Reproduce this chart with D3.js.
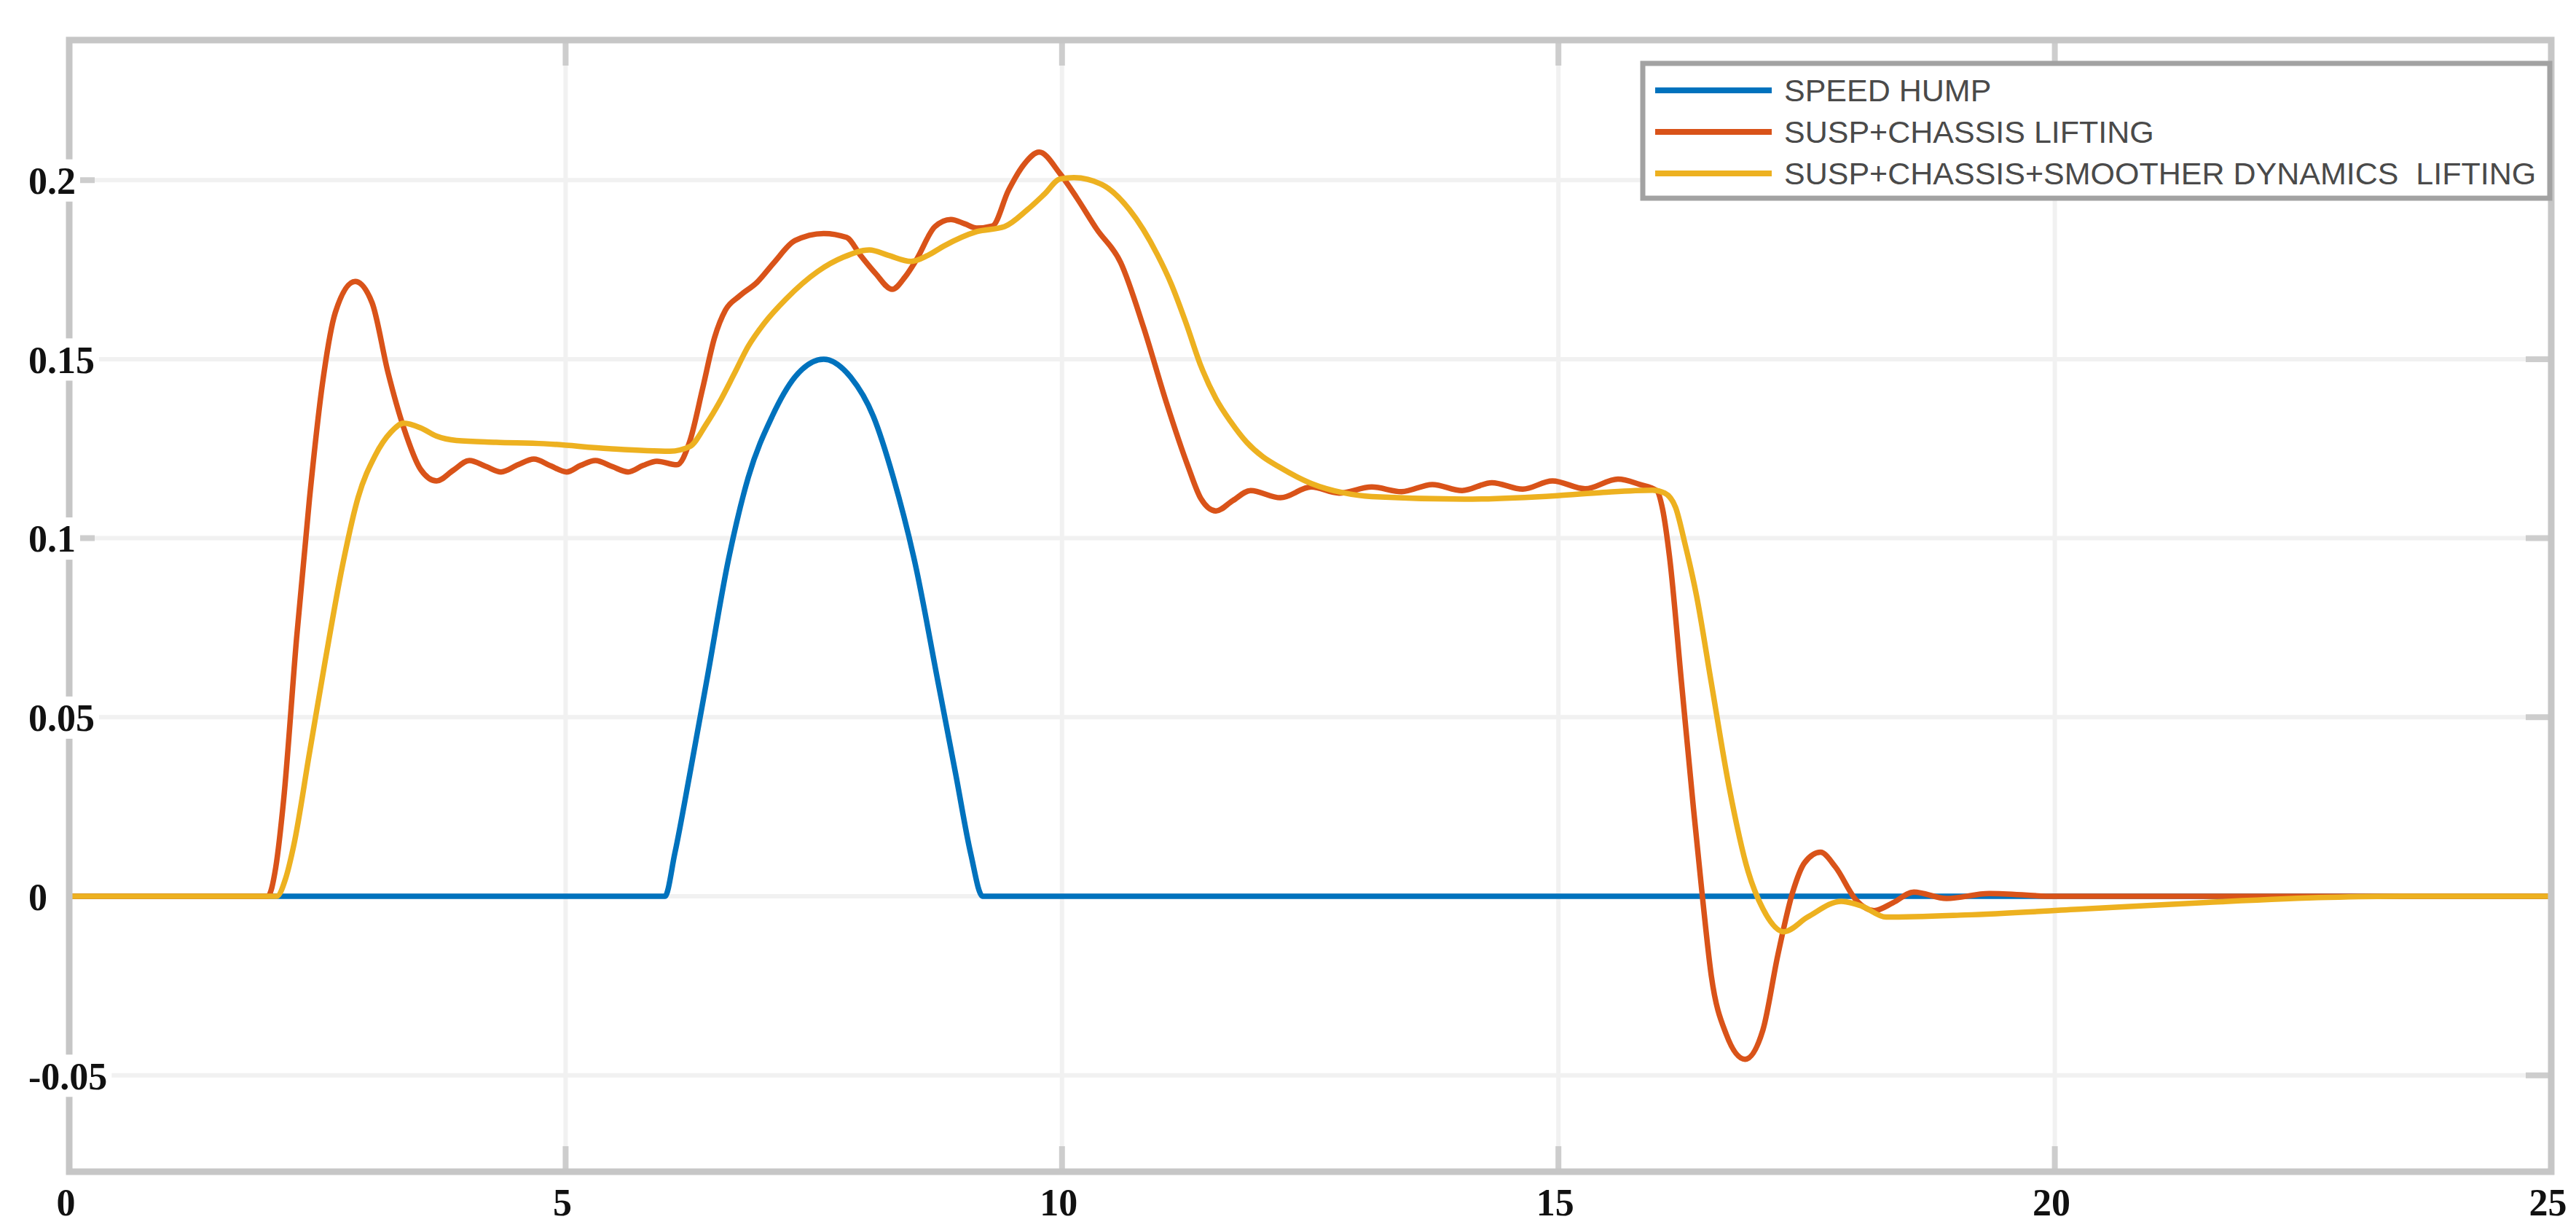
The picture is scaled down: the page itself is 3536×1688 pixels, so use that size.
<!DOCTYPE html>
<html><head><meta charset="utf-8">
<script src="https://cdn.jsdelivr.net/npm/d3@7"></script>
<style>html,body{margin:0;padding:0;background:#fff;} svg{display:block;}</style>
</head><body>
<svg id="chart" width="3536" height="1688"></svg>
<script>
// ---------------- data ----------------
const timeTicks = [0, 5, 10, 15, 20, 25];
const timeTickLabels = ["0", "5", "10", "15", "20", "25"];
const valueTicks = [-0.05, 0, 0.05, 0.1, 0.15, 0.2];
const valueTickLabels = ["-0.05", "0", "0.05", "0.1", "0.15", "0.2"];
const seriesNames = ["SPEED HUMP", "SUSP+CHASSIS LIFTING", "SUSP+CHASSIS+SMOOTHER DYNAMICS  LIFTING"];
const seriesColors = ["#0072BD", "#D95319", "#EDB120"];

// [time, value]
const speedHump = [[0,0],[6.0,0],[6.1,0.012],[6.25,0.034],[6.42,0.06],[6.64,0.094],[6.84,0.117],[7.08,0.134],[7.31,0.145],[7.6,0.15],[7.87,0.145],[8.1,0.134],[8.3,0.117],[8.52,0.093],[8.75,0.06],[8.93,0.034],[9.08,0.012],[9.2,0],[25,0]];

const suspChassis = [[0,0],[2.0,0],[2.08,0.008],[2.16,0.027],[2.29,0.072],[2.42,0.111],[2.55,0.143],[2.68,0.163],[2.88,0.1717],[3.05,0.1658],[3.21,0.1464],[3.37,0.1308],[3.54,0.1192],[3.7,0.116],[3.87,0.119],[4.03,0.1217],[4.2,0.12],[4.35,0.1185],[4.52,0.1205],[4.68,0.1221],[4.85,0.1202],[5.01,0.1185],[5.15,0.1203],[5.3,0.1217],[5.47,0.12],[5.63,0.1185],[5.78,0.1203],[5.92,0.1215],[6.12,0.1205],[6.25,0.127],[6.38,0.1418],[6.5,0.156],[6.61,0.1637],[6.75,0.1676],[6.93,0.1715],[7.1,0.177],[7.31,0.1831],[7.6,0.1851],[7.83,0.184],[7.97,0.179],[8.12,0.174],[8.29,0.1695],[8.42,0.173],[8.53,0.1776],[8.72,0.187],[8.88,0.189],[9.02,0.1878],[9.14,0.1866],[9.3,0.1872],[9.46,0.1971],[9.62,0.2045],[9.77,0.2078],[9.98,0.2018],[10.15,0.195],[10.35,0.1863],[10.59,0.177],[10.82,0.159],[11.05,0.138],[11.27,0.12],[11.4,0.111],[11.55,0.1076],[11.72,0.1105],[11.9,0.1133],[12.2,0.1113],[12.51,0.1143],[12.79,0.1126],[13.12,0.1143],[13.42,0.113],[13.73,0.115],[14.03,0.1133],[14.33,0.1155],[14.64,0.1137],[14.94,0.116],[15.27,0.1138],[15.6,0.1165],[15.82,0.115],[15.99,0.1133],[16.05,0.108],[16.12,0.0946],[16.24,0.0596],[16.36,0.0246],[16.45,0],[16.54,-0.0222],[16.69,-0.0385],[16.88,-0.0455],[17.06,-0.0373],[17.21,-0.0164],[17.36,0.0012],[17.48,0.0094],[17.64,0.0123],[17.79,0.0082],[18.0,-0.0011],[18.18,-0.004],[18.37,-0.0018],[18.58,0.0012],[18.91,-0.0006],[19.34,0.0008],[20,0],[25,0]];

const suspChassisSmoother = [[0,0],[2.09,0],[2.18,0.005],[2.26,0.014],[2.42,0.04],[2.58,0.066],[2.75,0.092],[2.91,0.1114],[3.08,0.123],[3.24,0.1296],[3.37,0.1321],[3.54,0.1308],[3.7,0.1285],[3.9,0.1273],[4.3,0.1268],[4.78,0.1264],[5.44,0.125],[6.05,0.1243],[6.25,0.1256],[6.42,0.132],[6.55,0.138],[6.7,0.146],[6.84,0.1536],[7.0,0.16],[7.22,0.1668],[7.54,0.1745],[7.8,0.1785],[8.06,0.1805],[8.25,0.179],[8.48,0.1773],[8.65,0.179],[8.81,0.1816],[9.14,0.1856],[9.42,0.187],[9.65,0.1917],[9.82,0.196],[9.98,0.2003],[10.12,0.2007],[10.4,0.1988],[10.68,0.1917],[10.96,0.1792],[11.1,0.171],[11.25,0.16],[11.4,0.148],[11.55,0.139],[11.7,0.1325],[11.86,0.1268],[12.02,0.1228],[12.18,0.12],[12.51,0.1153],[12.83,0.1127],[13.12,0.1116],[14.05,0.1109],[14.99,0.1119],[15.45,0.1128],[15.95,0.1134],[16.07,0.1126],[16.18,0.1086],[16.27,0.099],[16.39,0.0841],[16.54,0.0596],[16.72,0.0304],[16.91,0.007],[17.06,-0.0035],[17.27,-0.0099],[17.51,-0.0058],[17.85,-0.0014],[18.06,-0.0028],[18.3,-0.0058],[19.1,-0.0052],[20.31,-0.0035],[21.53,-0.0017],[22.75,-0.0003],[23.5,0],[25,0]];

const allSeries = [speedHump, suspChassis, suspChassisSmoother];

// ---------------- layout ----------------
const plot = {left: 95, right: 3502, top: 55, bottom: 1608};
const svg = d3.select("#chart");
const x = d3.scaleLinear().domain([0, 25]).range([plot.left, plot.right]);
const y = d3.scaleLinear().domain([-0.0769, 0.2391]).range([plot.bottom, plot.top]);

svg.append("rect").attr("width", 3536).attr("height", 1688).attr("fill", "#fff");

svg.append("defs").append("clipPath").attr("id", "clip")
  .append("rect").attr("x", plot.left).attr("y", plot.top)
  .attr("width", plot.right - plot.left).attr("height", plot.bottom - plot.top);

// grid
const grid = svg.append("g").attr("stroke", "#f1f1f1").attr("stroke-width", 6);
grid.selectAll(".gx").data(timeTicks.slice(1, -1)).join("line")
  .attr("x1", d => x(d)).attr("x2", d => x(d)).attr("y1", plot.top).attr("y2", plot.bottom);
grid.selectAll(".gy").data(valueTicks).join("line")
  .attr("y1", d => y(d)).attr("y2", d => y(d)).attr("x1", plot.left).attr("x2", plot.right);

// inward ticks (under the data lines)
const tickLen = 35;
const tk = svg.append("g").attr("stroke", "#cdcdcd").attr("stroke-width", 8);
tk.selectAll(".tb").data(timeTicks).join("line")
  .attr("x1", d => x(d)).attr("x2", d => x(d)).attr("y1", plot.bottom).attr("y2", plot.bottom - tickLen);
tk.selectAll(".tt").data(timeTicks).join("line")
  .attr("x1", d => x(d)).attr("x2", d => x(d)).attr("y1", plot.top).attr("y2", plot.top + tickLen);
tk.selectAll(".tl").data(valueTicks).join("line")
  .attr("y1", d => y(d)).attr("y2", d => y(d)).attr("x1", plot.left).attr("x2", plot.left + tickLen);
tk.selectAll(".tr").data(valueTicks).join("line")
  .attr("y1", d => y(d)).attr("y2", d => y(d)).attr("x1", plot.right).attr("x2", plot.right - tickLen);

// lines
const line = d3.line().x(d => x(d[0])).y(d => y(d[1])).curve(d3.curveMonotoneX);
svg.append("g").attr("clip-path", "url(#clip)")
  .selectAll("path").data(allSeries).join("path")
  .attr("d", line).attr("fill", "none")
  .attr("stroke", (d, i) => seriesColors[i]).attr("stroke-width", 7.5)
  .attr("stroke-linejoin", "round").attr("stroke-linecap", "butt");

// frame
svg.append("rect").attr("x", plot.left).attr("y", plot.top)
  .attr("width", plot.right - plot.left).attr("height", plot.bottom - plot.top)
  .attr("fill", "none").attr("stroke", "#c6c6c6").attr("stroke-width", 9);

const labelFont = "'Liberation Serif', 'Times New Roman', serif";

// x axis labels
const xAxis = svg.append("g").attr("transform", `translate(0,${plot.bottom})`)
  .call(d3.axisBottom(x).tickValues(timeTicks).tickFormat((d, i) => timeTickLabels[i]).tickSize(0));
xAxis.select(".domain").remove();
xAxis.selectAll("text")
  .attr("x", -5).attr("y", 42).attr("dy", "0.35em").attr("text-anchor", "middle")
  .attr("font-family", labelFont)
  .attr("font-weight", "bold").attr("font-size", 52).attr("fill", "#111");

// y axis labels (left-aligned, over the axis line with white background)
const yAxis = svg.append("g").attr("transform", `translate(${plot.left},0)`)
  .call(d3.axisLeft(y).tickValues(valueTicks).tickFormat((d, i) => valueTickLabels[i]).tickSize(0));
yAxis.select(".domain").remove();
yAxis.selectAll("text")
  .attr("x", 39 - plot.left).attr("dy", "0.35em").attr("text-anchor", "start")
  .attr("font-family", labelFont)
  .attr("font-weight", "bold").attr("font-size", 52).attr("fill", "#111");
yAxis.selectAll(".tick").each(function() {
  const t = d3.select(this).select("text");
  const bb = t.node().getBBox();
  d3.select(this).insert("rect", "text")
    .attr("x", bb.x - 6).attr("y", -29).attr("width", bb.width + 12).attr("height", 58)
    .attr("fill", "#fff");
});

// legend
const lg = {x0: 2255, x1: 3500, y0: 87, y1: 272, lineX0: 2272, lineX1: 2432, textX: 2449, rows: [124, 181, 238]};
svg.append("rect").attr("x", lg.x0).attr("y", lg.y0).attr("width", lg.x1 - lg.x0).attr("height", lg.y1 - lg.y0)
  .attr("fill", "#fff").attr("stroke", "#a2a2a2").attr("stroke-width", 7);
const items = svg.append("g").selectAll("g").data(seriesNames).join("g");
items.append("line").attr("x1", lg.lineX0).attr("x2", lg.lineX1)
  .attr("y1", (d, i) => lg.rows[i]).attr("y2", (d, i) => lg.rows[i])
  .attr("stroke", (d, i) => seriesColors[i]).attr("stroke-width", 8);
items.append("text").attr("x", lg.textX).attr("y", (d, i) => lg.rows[i]).attr("dy", "0.36em")
  .attr("font-family", "'Liberation Sans', Arial, sans-serif").attr("font-size", 43)
  .attr("fill", "#4a4a4a").attr("xml:space", "preserve").style("white-space", "pre")
  .text(d => d);
</script>
</body></html>
